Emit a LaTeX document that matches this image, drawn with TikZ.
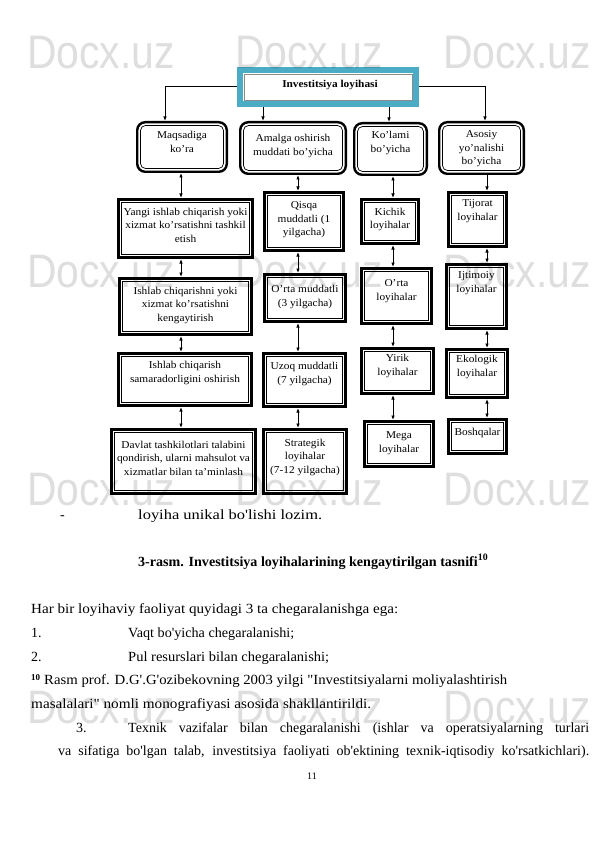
\documentclass[tikz,border=0pt]{standalone}
\usepackage{fontspec}
\usepackage{graphicx}
\newfontfamily\bodyfont{Liberation Serif}
\newfontfamily\diafont[FakeStretch=1.08]{Liberation Serif}
\newfontfamily\wmfont[FakeStretch=0.87]{Liberation Sans}
\usetikzlibrary{arrows.meta}
\definecolor{tealframe}{RGB}{75,172,198}
\newsavebox\fitbox
\newcommand\fitw[2]{\sbox\fitbox{#2}\edef\fitfac{\fpeval{#1*65536/\number\wd\fitbox}}\scalebox{\fitfac}[1]{\usebox\fitbox}}
\tikzset{
  every node/.style={inner sep=0pt},
  frame/.style={draw, line width=2.6pt, fill=white, outer sep=1.3pt,
    path picture={\draw[line width=0.6pt] ([shift={(3.4pt,3.4pt)}]path picture bounding box.south west) rectangle ([shift={(-3.4pt,-3.4pt)}]path picture bounding box.north east);}},
  rframe/.style={draw, line width=2.4pt, fill=white, rounded corners=8pt, outer sep=1.2pt,
    path picture={\draw[line width=0.7pt, rounded corners=5pt] ([shift={(3.3pt,3.3pt)}]path picture bounding box.south west) rectangle ([shift={(-3.3pt,-3.3pt)}]path picture bounding box.north east);}},
  topframe/.style={draw=tealframe, line width=6pt, fill=white, outer sep=3pt,
    path picture={\draw[line width=0.6pt, black!45] ([shift={(4pt,4pt)}]path picture bounding box.south west) rectangle ([shift={(-4pt,-4pt)}]path picture bounding box.north east);}},
  btxt/.style={font=\diafont\fontsize{10.5}{13.5}\selectfont, align=center},
  link/.style={line width=1pt, -{Latex[length=4.5pt,width=3.6pt]}},
  blink/.style={line width=1pt, {Latex[length=4.5pt,width=3.6pt]}-{Latex[length=4.5pt,width=3.6pt]}},
  body/.style={font=\bodyfont\fontsize{14}{16}\selectfont, anchor=base west},
  wm/.style={font=\wmfont\fontsize{47}{47}\selectfont, text=black, text opacity=0.13, anchor=base west},
}
\begin{document}
\begin{tikzpicture}[x=1pt,y=-1pt]
\fill[white] (0,0) rectangle (595,842);
\useasboundingbox (0,0) rectangle (595,842);

% top
\node[topframe, minimum width=176pt, minimum height=34pt] (top) at (328,87) {};
\node[font=\diafont\bfseries\fontsize{10.5}{12}\selectfont] (top-t) at (330,85) {Investitsiya loyihasi};

% level 1
\node[rframe, minimum width=89.6pt, minimum height=49.6pt] (maq) at (182,147) {};
\node[btxt] (maq-t) at (182,142) {Maqsadiga\\ko’ra};
\node[rframe, minimum width=105.6pt, minimum height=51.6pt] (amal) at (293,148) {};
\node[btxt] (amal-t) at (293,146) {Amalga oshirish\\muddati bo’yicha};
\node[rframe, minimum width=72.6pt, minimum height=51.6pt] (kol) at (390.5,149) {};
\node[btxt] (kol-t) at (390.5,143) {Ko’lami\\bo’yicha};
\node[rframe, minimum width=84.6pt, minimum height=51.6pt] (aso) at (481.5,148) {};
\node[btxt] (aso-t) at (481.5,149) {Asosiy\\yo’nalishi\\bo’yicha};

% column 1
\node[frame, minimum width=134.4pt, minimum height=58.4pt] (yangi) at (185.5,228.5) {};
\node[btxt] (yangi-t) at (185.5,225) {Yangi ishlab chiqarish yoki\\xizmat ko’rsatishni tashkil\\etish};
\node[frame, minimum width=132.4pt, minimum height=56.4pt] (kengay) at (185.5,306.5) {};
\node[btxt] (kengay-t) at (185.5,305) {Ishlab chiqarishni yoki\\xizmat ko’rsatishni\\kengaytirish};
\node[frame, minimum width=133.4pt, minimum height=52.4pt] (samar) at (185,379.5) {};
\node[btxt] (samar-t) at (185,373) {Ishlab chiqarish\\samaradorligini oshirish};
\node[frame, minimum width=144.4pt, minimum height=64.4pt] (davlat) at (183.5,461.5) {};
\node[btxt] (davlat-t) at (183.5,458) {Davlat tashkilotlari talabini\\qondirish, ularni mahsulot va\\xizmatlar bilan ta’minlash};

% column 2
\node[frame, minimum width=79.4pt, minimum height=58.4pt] (qisqa) at (304,221.5) {};
\node[btxt] (qisqa-t) at (304,220) {Qisqa\\muddatli (1\\yilgacha)};
\node[frame, minimum width=81.4pt, minimum height=47.4pt] (ortamud) at (305,298) {};
\node[btxt] (ortamud-t) at (305,297) {O’rta muddatli\\(3 yilgacha)};
\node[frame, minimum width=82.4pt, minimum height=53.4pt] (uzoq) at (304.5,380) {};
\node[btxt] (uzoq-t) at (304.5,374) {Uzoq muddatli\\(7 yilgacha)};
\node[frame, minimum width=83.4pt, minimum height=64.4pt] (strat) at (305,461.5) {};
\node[btxt] (strat-t) at (305,457) {Strategik\\loyihalar\\(7-12 yilgacha)};

% column 3
\node[frame, minimum width=57.4pt, minimum height=44.4pt] (kichik) at (390,221.5) {};
\node[btxt] (kichik-t) at (390,219.5) {Kichik\\loyihalar};
\node[frame, minimum width=70.4pt, minimum height=55.4pt] (ortaloy) at (396.5,296) {};
\node[btxt] (ortaloy-t) at (396.5,291) {O’rta\\loyihalar};
\node[frame, minimum width=72.4pt, minimum height=45.4pt] (yirik) at (397.5,371) {};
\node[btxt] (yirik-t) at (397.5,366) {Yirik\\loyihalar};
\node[frame, minimum width=69.4pt, minimum height=45.4pt] (mega) at (399,444) {};
\node[btxt] (mega-t) at (399,443) {Mega\\loyihalar};

% column 4
\node[frame, minimum width=58.4pt, minimum height=54.4pt] (tijorat) at (477.5,219.5) {};
\node[btxt] (tijorat-t) at (477.5,211) {Tijorat\\loyihalar};
\node[frame, minimum width=60.4pt, minimum height=64.4pt] (ijtim) at (476.5,296.5) {};
\node[btxt] (ijtim-t) at (476.5,283) {Ijtimoiy\\loyihalar};
\node[frame, minimum width=61.4pt, minimum height=48.4pt] (ekolog) at (477,373.5) {};
\node[btxt] (ekolog-t) at (477,367) {Ekologik\\loyihalar};
\node[frame, minimum width=58.4pt, minimum height=34.4pt] (boshq) at (477.5,436.5) {};
\node[btxt] (boshq-t) at (477.5,433) {Boshqalar};

% connector guide coordinates
\coordinate (t1) at (165,0);
\coordinate (t2) at (263,0);
\coordinate (t3) at (389,0);
\coordinate (t4) at (485,0);
\coordinate (c1) at (181,0);
\coordinate (c2) at (298,0);
\coordinate (c3) at (393,0);
\coordinate (c4) at (487,0);

% top connectors
\draw[link] (top.west) -| (t1 |- maq.north);
\draw[link] (top.south -| t2) -- (amal.north -| t2);
\draw[link] (top.south -| t3) -- (kol.north -| t3);
\draw[link] (top.east) -| (t4 |- aso.north);

% column connectors
\draw[blink] (maq.south -| c1) -- (yangi.north -| c1);
\draw[blink] (yangi.south -| c1) -- (kengay.north -| c1);
\draw[blink] (kengay.south -| c1) -- (samar.north -| c1);
\draw[blink] (samar.south -| c1) -- (davlat.north -| c1);

\draw[blink] (amal.south -| c2) -- (qisqa.north -| c2);
\draw[blink] (qisqa.south -| c2) -- (ortamud.north -| c2);
\draw[blink] (ortamud.south -| c2) -- (uzoq.north -| c2);
\draw[blink] (uzoq.south -| c2) -- (strat.north -| c2);

\draw[blink] (kol.south -| c3) -- (kichik.north -| c3);
\draw[blink] (kichik.south -| c3) -- (ortaloy.north -| c3);
\draw[blink] (ortaloy.south -| c3) -- (yirik.north -| c3);
\draw[blink] (yirik.south -| c3) -- (mega.north -| c3);

\draw[link] (aso.south -| c4) -- (tijorat.north -| c4);
\draw[blink] (tijorat.south -| c4) -- (ijtim.north -| c4);
\draw[blink] (ijtim.south -| c4) -- (ekolog.north -| c4);
\draw[blink] (ekolog.south -| c4) -- (boshq.north -| c4);

% body text
\node[body] (dash) at (60,519) {-};
\node[body] (l1) at (138,519) {\fitw{184}{loyiha unikal bo'lishi lozim.}};
\node[body, font=\bodyfont\fontsize{14}{16}\selectfont\bfseries] (cap) at (138,566) {\fitw{350}{3-rasm. Investitsiya loyihalarining kengaytirilgan tasnifi\textsuperscript{10}}};
\node[body] (har) at (31,613) {\fitw{367}{Har bir loyihaviy faoliyat quyidagi 3 ta chegaralanishga ega:}};
\node[body] (n1) at (31,637) {1.};
\node[body] (v1) at (128,637) {\fitw{166}{Vaqt bo'yicha chegaralanishi;}};
\node[body] (n2) at (31,661) {2.};
\node[body] (v2) at (128,661) {\fitw{201}{Pul resurslari bilan chegaralanishi;}};
\node[anchor=base west, font=\bodyfont\bfseries\fontsize{9}{9}\selectfont] (fn) at (31,680) {10};
\node[body] (fn1) at (44,684) {\fitw{463}{Rasm prof. D.G'.G'ozibekovning 2003 yilgi "Investitsiyalarni moliyalashtirish}};
\node[body] (fn2) at (31,708) {\fitw{340}{masalalari" nomli monografiyasi asosida shakllantirildi.}};
\node[body] (n3) at (76,732) {3.};
\node[body] (v3) at (128,732) {\makebox[461pt][s]{Texnik vazifalar bilan chegaralanishi (ishlar va operatsiyalarning turlari}};
\node[body] (v3b) at (58,755) {\makebox[531pt][s]{va sifatiga bo'lgan talab, investitsiya faoliyati ob'ektining texnik-iqtisodiy ko'rsatkichlari).}};
\node[anchor=base, font=\bodyfont\fontsize{10}{12}\selectfont] (pg) at (312,779) {11};

% watermarks
\foreach \wy in {69,287,505,723} {
  \foreach \wx in {27,235,443} {
    \node[wm] at (\wx,\wy) {Docx.uz};
  }
}
\end{tikzpicture}
\end{document}
